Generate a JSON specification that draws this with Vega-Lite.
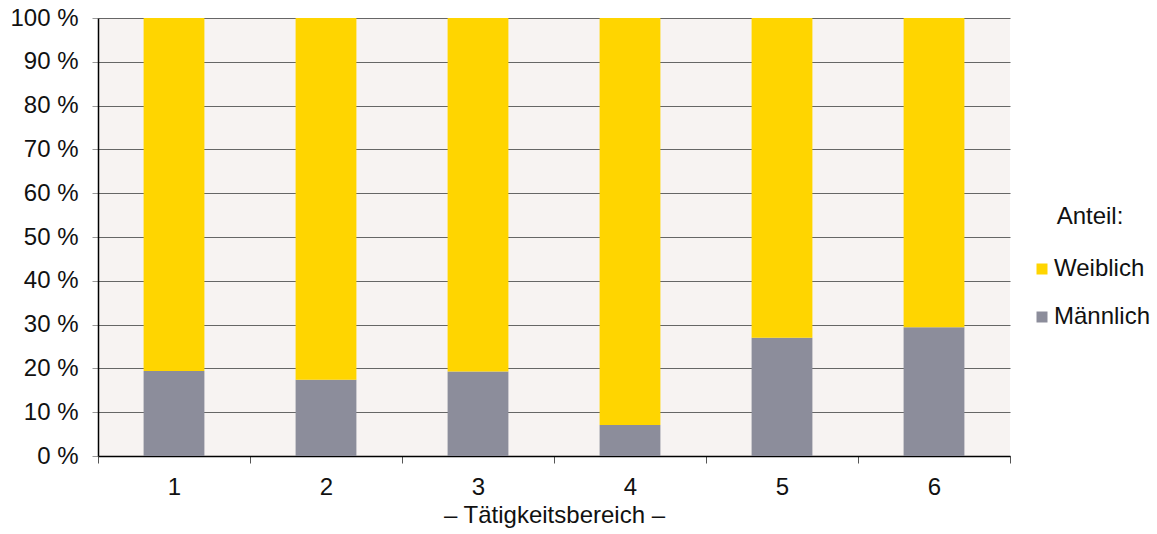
{
  "$schema": "https://vega.github.io/schema/vega-lite/v6.json",
  "autosize": "none",
  "width": 912,
  "height": 438,
  "padding": {"left": 98, "top": 18, "right": 147, "bottom": 78},
  "background": "#FFFFFF",
  "config": {
    "font": "Liberation Sans",
    "view": {"fill": "#F7F3F2", "stroke": null},
    "axis": {"labelFont": "Liberation Sans", "titleFont": "Liberation Sans", "labelColor": "#111", "titleColor": "#111"}
  },
  "data": {
    "values": [
      {"bereich": "1", "geschlecht": "Männlich", "anteil": 19.4, "ord": 0},
      {"bereich": "1", "geschlecht": "Weiblich", "anteil": 80.6, "ord": 1},
      {"bereich": "2", "geschlecht": "Männlich", "anteil": 17.4, "ord": 0},
      {"bereich": "2", "geschlecht": "Weiblich", "anteil": 82.6, "ord": 1},
      {"bereich": "3", "geschlecht": "Männlich", "anteil": 19.3, "ord": 0},
      {"bereich": "3", "geschlecht": "Weiblich", "anteil": 80.7, "ord": 1},
      {"bereich": "4", "geschlecht": "Männlich", "anteil": 7.1, "ord": 0},
      {"bereich": "4", "geschlecht": "Weiblich", "anteil": 92.9, "ord": 1},
      {"bereich": "5", "geschlecht": "Männlich", "anteil": 27.0, "ord": 0},
      {"bereich": "5", "geschlecht": "Weiblich", "anteil": 73.0, "ord": 1},
      {"bereich": "6", "geschlecht": "Männlich", "anteil": 29.4, "ord": 0},
      {"bereich": "6", "geschlecht": "Weiblich", "anteil": 70.6, "ord": 1}
    ]
  },
  "mark": {"type": "bar", "width": {"band": 0.4}},
  "encoding": {
    "x": {
      "field": "bereich", "type": "nominal",
      "scale": {"paddingInner": 0, "paddingOuter": 0},
      "axis": {
        "title": "– Tätigkeitsbereich –",
        "labelAngle": 0, "labelFontSize": 24, "titleFontSize": 24, "titleFontWeight": "normal",
        "domainColor": "#000", "domainWidth": 1.5,
        "tickColor": "#555", "tickSize": 7, "tickBand": "extent",
        "labelPadding": 12, "titlePadding": 4
      }
    },
    "y": {
      "field": "anteil", "type": "quantitative", "stack": "zero",
      "scale": {"domain": [0, 100], "nice": false},
      "axis": {
        "title": null, "values": [0, 10, 20, 30, 40, 50, 60, 70, 80, 90, 100],
        "labelExpr": "datum.value + ' %'",
        "labelFontSize": 24, "labelPadding": 14,
        "domainColor": "#000", "domainWidth": 1.5,
        "tickColor": "#999", "tickSize": 6,
        "grid": true, "gridColor": "#666", "gridWidth": 1.2
      }
    },
    "color": {
      "field": "geschlecht", "type": "nominal",
      "scale": {"domain": ["Weiblich", "Männlich"], "range": ["#FFD500", "#8C8D9B"]},
      "legend": {
        "title": "Anteil:", "orient": "none", "legendX": 932, "legendY": 187,
        "titleFontSize": 24, "titleFontWeight": "normal", "titleColor": "#111",
        "titleAnchor": "middle", "titleAlign": "center", "titlePadding": 28,
        "labelFontSize": 24, "labelColor": "#111", "labelOffset": 0,
        "symbolType": "square", "symbolSize": 121, "symbolStrokeWidth": 0,
        "rowPadding": 24
      }
    },
    "order": {"field": "ord", "type": "quantitative"}
  }
}
